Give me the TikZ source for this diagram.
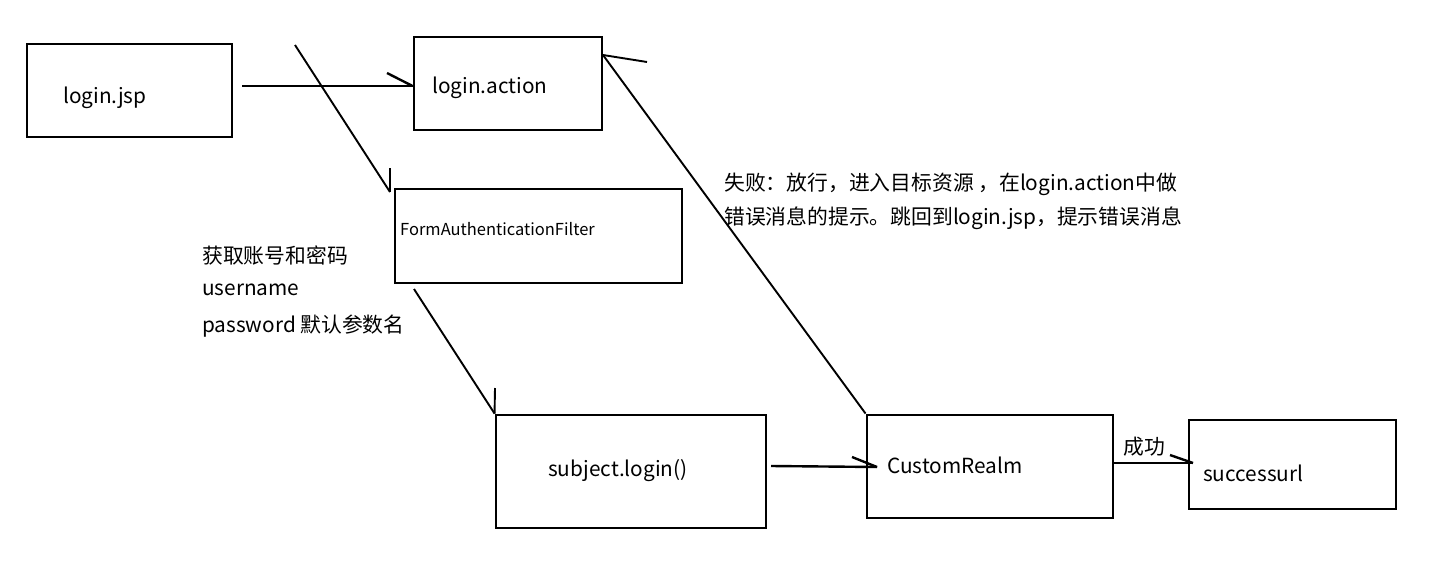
\documentclass[tikz,border=0pt]{standalone}
\usepackage{fontspec}
\setmainfont{Noto Sans CJK SC}
\begin{document}
\begin{tikzpicture}[x=1pt,y=-1pt,
  box/.style={draw,line width=2.9pt,rectangle,inner sep=0pt},
  conn/.style={line width=2.4pt},
  thin conn/.style={line width=1.9pt},
  lbl/.style={anchor=west,inner sep=0pt,font=\fontsize{20.8}{24}\selectfont},
  small/.style={anchor=west,inner sep=0pt,font=\fontsize{16.5}{20}\selectfont}]
\useasboundingbox (0,0) rectangle (1452,560);
\fill[white] (0,0) rectangle (1452,560);
% boxes
\node[box,minimum width=205pt,minimum height=93pt] (jsp) at (129.5,90.5) {};
\node[box,minimum width=188pt,minimum height=93pt] (action) at (508,83.5) {};
\node[box,minimum width=287pt,minimum height=94pt] (faf) at (538.5,236) {};
\node[box,minimum width=270pt,minimum height=113pt] (subj) at (631,471.5) {};
\node[box,minimum width=246pt,minimum height=103pt] (realm) at (990,466.5) {};
\node[box,minimum width=207pt,minimum height=89pt] (succ) at (1292.5,464.5) {};
% box texts
\node[lbl] (tjsp) at (63,98) {login.jsp};
\node[lbl] (taction) at (432,88) {login.action};
\node[small] (tfaf) at (400,229) {FormAuthenticationFilter};
\node[lbl] (tsubj) at (548,471) {subject.login()};
\node[lbl] (trealm) at (887,465) {CustomRealm};
\node[lbl] (tsucc) at (1203,473) {successurl};
% annotations
\node[lbl] (n1) at (202,256) {获取账号和密码};
\node[lbl] (n2) at (202,290) {username};
\node[lbl] (n3) at (202,326) {password 默认参数名};
\node[lbl] (f1) at (724,184) {失败：放行，进入目标资源 ，在login.action中做};
\node[lbl] (f2) at (724,218) {错误消息的提示。跳回到login.jsp，提示错误消息};
\node[lbl] (ok) at (1123,447) {成功};
% connectors
\coordinate (s1) at (242,86);
\coordinate (b1) at (387,73);
\coordinate (e1) at (action.west |- s1);
\draw[conn] (s1) -- (e1);
\draw[conn] (b1) -- (e1);

\coordinate (s2) at (295,45);
\coordinate (e2) at (390,192);
\coordinate (b2) at (390,168);
\draw[thin conn] (s2) -- (e2);
\draw[thin conn] (b2) -- (e2);

\coordinate (s3) at (414,289);
\coordinate (e3) at (subj.north west);
\coordinate (b3) at (495,388);
\draw[thin conn] (s3) -- (e3);
\draw[thin conn] (b3) -- (e3);

\coordinate (s4) at (771,466);
\coordinate (e4) at (877,467);
\coordinate (b4) at (852,457);
\draw[conn] (s4) -- (e4);
\draw[conn] (b4) -- (e4);

\coordinate (s5) at (realm.north west);
\coordinate (e5) at (603,55);
\coordinate (b5) at (647,62);
\draw[thin conn] (s5) -- (e5);
\draw[thin conn] (b5) -- (e5);

\coordinate (s6) at (realm.east |- 0,463);
\coordinate (e6) at (1193,463);
\coordinate (b6) at (1170,455);
\draw[conn] (s6) -- (e6);
\draw[conn] (b6) -- (e6);
\end{tikzpicture}
\end{document}
